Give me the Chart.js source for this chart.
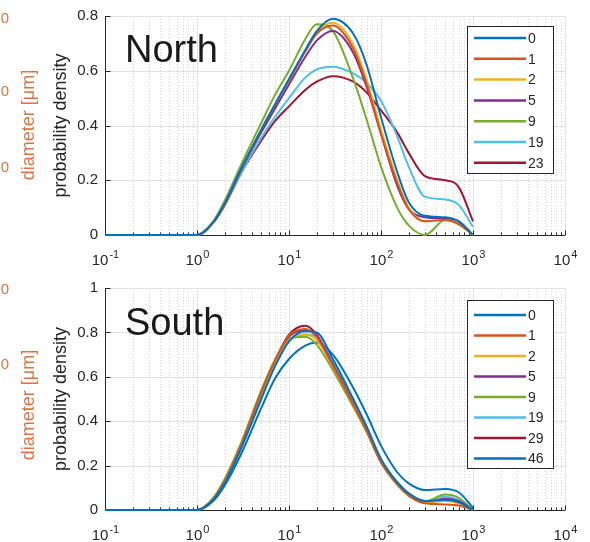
<!DOCTYPE html>
<html>
<head>
<meta charset="utf-8">
<script src="https://cdn.jsdelivr.net/npm/chart.js@4.4.1/dist/chart.umd.min.js"></script>
<style>
  body { margin: 0; background: #fff; }
  canvas { display: block; }
</style>
</head>
<body>
<canvas id="north" width="590" height="271"></canvas>
<canvas id="south" width="590" height="271"></canvas>
<script>
// particle diameter (um) where each density curve is sampled
const diameters = [0.1, 1, 1.5, 2, 3, 5, 7, 10, 15, 20, 30, 50, 70, 100, 150, 200, 300, 500, 700, 1000];

// North site
const northLabels = ['0', '1', '2', '5', '9', '19', '23'];
const north0  = [0, 0, 0.046, 0.115, 0.24, 0.385, 0.475, 0.57, 0.675, 0.745, 0.79, 0.735, 0.62, 0.43, 0.23, 0.12, 0.07, 0.065, 0.05, 0];
const north1  = [0, 0, 0.046, 0.115, 0.24, 0.385, 0.475, 0.565, 0.67, 0.735, 0.765, 0.68, 0.55, 0.37, 0.19, 0.095, 0.05, 0.055, 0.04, 0];
const north2  = [0, 0, 0.046, 0.115, 0.24, 0.385, 0.475, 0.565, 0.67, 0.74, 0.775, 0.695, 0.565, 0.385, 0.2, 0.1, 0.05, 0.055, 0.04, 0];
const north5  = [0, 0, 0.045, 0.11, 0.235, 0.375, 0.46, 0.55, 0.65, 0.71, 0.745, 0.665, 0.54, 0.37, 0.18, 0.095, 0.065, 0.06, 0.05, 0];
const north9  = [0, 0, 0.05, 0.125, 0.255, 0.41, 0.51, 0.6, 0.715, 0.77, 0.745, 0.57, 0.42, 0.25, 0.1, 0.035, 0.0, 0.055, 0.04, 0];
const north19 = [0, 0, 0.045, 0.11, 0.225, 0.355, 0.43, 0.5, 0.575, 0.605, 0.615, 0.59, 0.555, 0.49, 0.36, 0.25, 0.14, 0.13, 0.11, 0.03];
const north23 = [0, 0, 0.045, 0.11, 0.225, 0.345, 0.415, 0.47, 0.53, 0.56, 0.58, 0.56, 0.52, 0.455, 0.375, 0.3, 0.215, 0.2, 0.175, 0.05];

// South site
const southLabels = ['0', '1', '2', '5', '9', '19', '29', '46'];
const south0  = [0, 0, 0.045, 0.12, 0.275, 0.5, 0.645, 0.76, 0.805, 0.8, 0.68, 0.5, 0.375, 0.23, 0.125, 0.075, 0.04, 0.045, 0.035, 0];
const south1  = [0, 0, 0.05, 0.13, 0.29, 0.53, 0.67, 0.785, 0.815, 0.78, 0.65, 0.475, 0.355, 0.215, 0.115, 0.065, 0.03, 0.025, 0.02, 0];
const south2  = [0, 0, 0.05, 0.13, 0.29, 0.52, 0.66, 0.765, 0.79, 0.765, 0.645, 0.475, 0.355, 0.215, 0.115, 0.065, 0.035, 0.04, 0.03, 0];
const south5  = [0, 0, 0.05, 0.13, 0.29, 0.525, 0.665, 0.78, 0.81, 0.785, 0.655, 0.48, 0.36, 0.22, 0.12, 0.07, 0.035, 0.05, 0.04, 0];
const south9  = [0, 0, 0.055, 0.14, 0.3, 0.54, 0.675, 0.77, 0.78, 0.745, 0.63, 0.465, 0.35, 0.215, 0.115, 0.07, 0.04, 0.07, 0.055, 0];
const south19 = [0, 0, 0.05, 0.125, 0.28, 0.51, 0.65, 0.76, 0.79, 0.78, 0.665, 0.49, 0.365, 0.225, 0.125, 0.075, 0.04, 0.06, 0.045, 0];
const south29 = [0, 0, 0.05, 0.13, 0.29, 0.53, 0.67, 0.79, 0.83, 0.79, 0.66, 0.48, 0.36, 0.22, 0.12, 0.07, 0.035, 0.05, 0.04, 0];
const south46 = [0, 0, 0.04, 0.11, 0.25, 0.46, 0.59, 0.68, 0.74, 0.755, 0.7, 0.55, 0.43, 0.29, 0.17, 0.12, 0.09, 0.095, 0.08, 0.01];

const decades = [0.1, 1, 10, 100, 1000, 10000];

// MATLAB default line order (wraps around after seven)
const lineColors = ['#0072BD', '#D95319', '#EDB120', '#7E2F8E', '#77AC30', '#4DBEEE', '#A2142F', '#0072BD'];
const font = '"Liberation Sans", Arial, Helvetica, sans-serif';
const axisColor = '#262626';
const sideColor = 'rgb(222, 115, 62)';

function drawPower(ctx, x, y, exp) {
  ctx.font = '15px ' + font;
  const bw = ctx.measureText('10').width;
  ctx.font = '11px ' + font;
  const ew = ctx.measureText(exp).width;
  const left = x - (bw + ew) / 2;
  ctx.fillStyle = axisColor;
  ctx.textAlign = 'left';
  ctx.textBaseline = 'alphabetic';
  ctx.font = '15px ' + font;
  ctx.fillText('10', left, y);
  ctx.font = '11px ' + font;
  ctx.fillText(exp, left + bw + 1, y - 7);
}

function panelPlugin(p) {
  return {
    id: 'panel',
    beforeDatasetsDraw(chart) {
      const ctx = chart.ctx;
      const xs = chart.scales.x, ys = chart.scales.y;
      const a = chart.chartArea;
      ctx.save();
      // minor dotted grid
      ctx.strokeStyle = '#d2d2d2';
      ctx.lineWidth = 1;
      ctx.setLineDash([1, 2]);
      for (let d = 0.1; d < 10000; d *= 10) {
        for (let k = 2; k <= 9; k++) {
          const px = Math.round(xs.getPixelForValue(k * d)) + 0.5;
          ctx.beginPath(); ctx.moveTo(px, a.top); ctx.lineTo(px, a.bottom); ctx.stroke();
        }
      }
      ctx.setLineDash([]);
      // major grid
      ctx.strokeStyle = '#e2e2e2';
      decades.slice(1).forEach(d => {
        const px = Math.round(xs.getPixelForValue(d)) + 0.5;
        ctx.beginPath(); ctx.moveTo(px, a.top); ctx.lineTo(px, a.bottom); ctx.stroke();
      });
      ys.ticks.forEach(t => {
        if (t.value === 0) return;
        const py = Math.round(ys.getPixelForValue(t.value)) + 0.5;
        ctx.beginPath(); ctx.moveTo(a.left, py); ctx.lineTo(a.right, py); ctx.stroke();
      });
      // axes lines and inward ticks
      ctx.strokeStyle = axisColor;
      const L = Math.round(a.left) + 0.5, B = Math.round(a.bottom) + 0.5;
      ctx.beginPath(); ctx.moveTo(L, a.top); ctx.lineTo(L, B); ctx.lineTo(a.right, B); ctx.stroke();
      ys.ticks.forEach(t => {
        const py = Math.round(ys.getPixelForValue(t.value)) + 0.5;
        ctx.beginPath(); ctx.moveTo(L, py); ctx.lineTo(L + 5, py); ctx.stroke();
      });
      for (let d = 0.1; d < 20000; d *= 10) {
        for (let k = 1; k <= 9; k++) {
          const v = k * d;
          if (v > 10000 * 1.0001) break;
          const px = Math.round(xs.getPixelForValue(v)) + 0.5;
          ctx.beginPath(); ctx.moveTo(px, B); ctx.lineTo(px, B - (k === 1 ? 5 : 3)); ctx.stroke();
        }
      }
      ctx.restore();
    },
    afterDatasetsDraw(chart) {
      const ctx = chart.ctx;
      const xs = chart.scales.x;
      const a = chart.chartArea;
      ctx.save();
      // decade tick labels
      decades.forEach((d, i) => {
        drawPower(ctx, xs.getPixelForValue(d), a.bottom + 30, String(i - 1));
      });
      // panel title
      ctx.fillStyle = '#1a1a1a';
      ctx.font = '38px ' + font;
      ctx.textAlign = 'left';
      ctx.fillText(p.title, 125, p.titleY);
      // legend
      const lg = p.legend;
      ctx.fillStyle = '#fff';
      ctx.fillRect(lg.x, lg.y, lg.w, lg.h);
      ctx.strokeStyle = axisColor;
      ctx.lineWidth = 1;
      ctx.strokeRect(lg.x + 0.5, lg.y + 0.5, lg.w, lg.h);
      chart.data.datasets.forEach((ds, i) => {
        const ry = lg.y + lg.first + i * lg.step;
        ctx.strokeStyle = ds.borderColor;
        ctx.lineWidth = 2.5;
        ctx.beginPath(); ctx.moveTo(lg.x + 7, ry); ctx.lineTo(lg.x + 59, ry); ctx.stroke();
        ctx.fillStyle = axisColor;
        ctx.font = '14px ' + font;
        ctx.textBaseline = 'middle';
        ctx.fillText(ds.label, lg.x + 61, ry + 1);
      });
      // y axis titles
      ctx.textBaseline = 'middle';
      ctx.textAlign = 'center';
      const cy = (a.top + a.bottom) / 2;
      ctx.save();
      ctx.translate(61, cy);
      ctx.rotate(-Math.PI / 2);
      ctx.fillStyle = axisColor;
      ctx.font = '18px ' + font;
      ctx.fillText('probability density', 0, 0);
      ctx.restore();
      ctx.save();
      ctx.translate(29, p.sideY);
      ctx.rotate(-Math.PI / 2);
      ctx.fillStyle = sideColor;
      ctx.font = '18px ' + font;
      ctx.fillText('diameter [\u03bcm]', 0, 0);
      ctx.restore();
      // neighbouring axis tick labels, clipped by the canvas edge
      ctx.fillStyle = sideColor;
      ctx.font = '15px ' + font;
      ctx.textAlign = 'right';
      p.sideTicks.forEach(t => ctx.fillText(t[0], 9, t[1]));
      ctx.restore();
    }
  };
}

function makePanel(id, title, labels, series, yMax, p) {
  const datasets = series.map((vals, i) => ({
    label: labels[i],
    data: diameters.map((d, j) => ({ x: d, y: vals[j] })),
    borderColor: lineColors[i],
    backgroundColor: lineColors[i],
    borderWidth: 2,
    pointRadius: 0,
    cubicInterpolationMode: 'monotone',
    clip: 4
  }));
  p.title = title;
  return new Chart(document.getElementById(id).getContext('2d'), {
    type: 'line',
    data: { datasets: datasets },
    options: {
      responsive: false,
      animation: false,
      layout: { padding: { left: 0, right: 25, top: p.top, bottom: 0 } },
      plugins: { legend: { display: false }, tooltip: { enabled: false } },
      scales: {
        x: {
          type: 'logarithmic', min: 0.1, max: 10000,
          ticks: { display: false },
          grid: { display: false, drawTicks: false },
          border: { display: false },
          afterFit: s => { s.height = 271 - p.bottom; }
        },
        y: {
          min: 0, max: yMax,
          ticks: {
            stepSize: 0.2, color: axisColor, font: { family: font, size: 15 }, padding: 7,
            callback: v => String(+v.toFixed(1))
          },
          grid: { display: false, drawTicks: false },
          border: { display: false },
          afterFit: s => { s.width = 105; }
        }
      }
    },
    plugins: [panelPlugin(p)]
  });
}

makePanel('north', 'North', northLabels,
  [north0, north1, north2, north5, north9, north19, north23], 0.8,
  { top: 13, bottom: 235, titleY: 62, sideY: 125,
    legend: { x: 467, y: 26, w: 86, h: 147, first: 12, step: 20.8 },
    sideTicks: [['50', 19], ['00', 92], ['50', 168]] });

makePanel('south', 'South', southLabels,
  [south0, south1, south2, south5, south9, south19, south29, south46], 1,
  { top: 17, bottom: 239, titleY: 64, sideY: 134,
    legend: { x: 467, y: 29, w: 86, h: 168, first: 15, step: 20.5 },
    sideTicks: [['50', 19], ['00', 94]] });
</script>
</body>
</html>
